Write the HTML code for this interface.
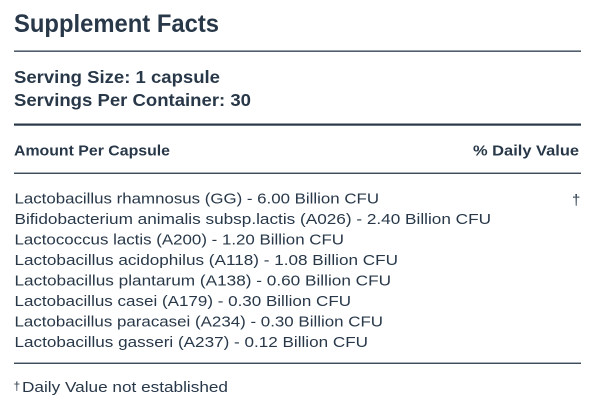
<!DOCTYPE html>
<html>
<head>
<meta charset="utf-8">
<style>
  html, body { margin: 0; padding: 0; background: #ffffff; }
  body { width: 601px; height: 403px; overflow: hidden; }
  svg { display: block; }
  text { font-family: "Liberation Sans", "DejaVu Sans", sans-serif; fill: #283849; }
</style>
</head>
<body>
<svg width="601" height="403" viewBox="0 0 601 403" xmlns="http://www.w3.org/2000/svg">
  <rect x="0" y="0" width="601" height="403" fill="#ffffff"/>

  <text x="14" y="32" font-size="25" font-weight="bold" textLength="205" lengthAdjust="spacingAndGlyphs">Supplement Facts</text>
  <rect x="14" y="50.5" width="567" height="1.3" fill="#283849"/>

  <text x="14" y="83" font-size="17.5" font-weight="bold" textLength="206" lengthAdjust="spacingAndGlyphs">Serving Size: 1 capsule</text>
  <text x="14" y="106" font-size="17.5" font-weight="bold" textLength="237" lengthAdjust="spacingAndGlyphs">Servings Per Container: 30</text>
  <rect x="14" y="123.5" width="567" height="2.2" fill="#283849"/>

  <text x="14" y="155.3" font-size="15" font-weight="bold" textLength="156" lengthAdjust="spacingAndGlyphs">Amount Per Capsule</text>
  <text x="473" y="155.3" font-size="15" font-weight="bold" textLength="106" lengthAdjust="spacingAndGlyphs">% Daily Value</text>
  <rect x="14" y="172.6" width="567" height="1.3" fill="#283849"/>

  <text x="14.5" y="203.5" font-size="15" textLength="364.5" lengthAdjust="spacingAndGlyphs">Lactobacillus rhamnosus (GG) - 6.00 Billion CFU</text>
  <text x="14.5" y="224" font-size="15" textLength="476.5" lengthAdjust="spacingAndGlyphs">Bifidobacterium animalis subsp.lactis (A026) - 2.40 Billion CFU</text>
  <text x="14.5" y="244.5" font-size="15" textLength="329.5" lengthAdjust="spacingAndGlyphs">Lactococcus lactis (A200) - 1.20 Billion CFU</text>
  <text x="14.5" y="265" font-size="15" textLength="383.5" lengthAdjust="spacingAndGlyphs">Lactobacillus acidophilus (A118) - 1.08 Billion CFU</text>
  <text x="14.5" y="285.5" font-size="15" textLength="376.5" lengthAdjust="spacingAndGlyphs">Lactobacillus plantarum (A138) - 0.60 Billion CFU</text>
  <text x="14.5" y="306" font-size="15" textLength="336.5" lengthAdjust="spacingAndGlyphs">Lactobacillus casei (A179) - 0.30 Billion CFU</text>
  <text x="14.5" y="326.5" font-size="15" textLength="368.5" lengthAdjust="spacingAndGlyphs">Lactobacillus paracasei (A234) - 0.30 Billion CFU</text>
  <text x="14.5" y="347" font-size="15" textLength="353.5" lengthAdjust="spacingAndGlyphs">Lactobacillus gasseri (A237) - 0.12 Billion CFU</text>

  <text x="572" y="205" font-size="15">†</text>

  <rect x="14" y="362.6" width="567" height="1.3" fill="#283849"/>

  <text x="13.5" y="390" font-size="12">†</text>
  <text x="22" y="392" font-size="15" textLength="206" lengthAdjust="spacingAndGlyphs">Daily Value not established</text>
</svg>
</body>
</html>
